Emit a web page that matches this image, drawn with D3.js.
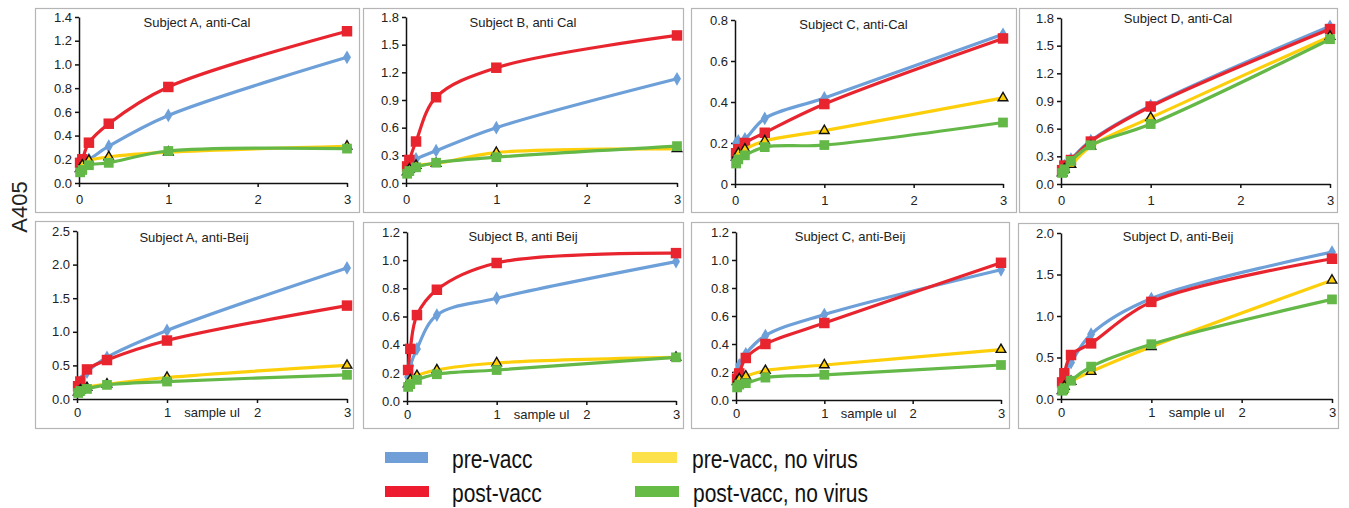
<!DOCTYPE html>
<html>
<head>
<meta charset="utf-8">
<script src="https://cdn.jsdelivr.net/npm/d3@7"></script>
<style>
  body { margin: 0; background: #fff; }
  svg { font-family: "Liberation Sans", Arial, Helvetica, sans-serif; }
</style>
</head>
<body>
<div id="chart"></div>
<script>
// Dilution series (sample ul)
const doses = [0.0123, 0.037, 0.111, 0.333, 1, 3];
const xTicks = [0, 1, 2, 3];

const seriesNames = ["pre-vacc", "post-vacc", "pre-vacc, no virus", "post-vacc, no virus"];

const panelTitles = [
  "Subject A, anti-Cal", "Subject B, anti Cal", "Subject C, anti-Cal", "Subject D, anti-Cal",
  "Subject A, anti-Beij", "Subject B, anti Beij", "Subject C, anti-Beij", "Subject D, anti-Beij"
];
const yMax  = [1.4, 1.8, 0.8, 1.8, 2.5, 1.2, 1.2, 2.0];
const yStep = [0.2, 0.3, 0.2, 0.3, 0.5, 0.2, 0.2, 0.5];

// A405 par panneau (même ordre que panelTitles)
const preVacc = [
  [0.15, 0.18, 0.20, 0.31, 0.57, 1.06],
  [0.19, 0.22, 0.26, 0.35, 0.60, 1.13],
  [0.20, 0.21, 0.22, 0.32, 0.42, 0.73],
  [0.16, 0.20, 0.27, 0.47, 0.85, 1.71],
  [0.18, 0.26, 0.40, 0.62, 1.02, 1.95],
  [0.17, 0.25, 0.37, 0.61, 0.73, 0.99],
  [0.20, 0.25, 0.33, 0.46, 0.61, 0.93],
  [0.20, 0.30, 0.44, 0.78, 1.21, 1.77]
];
const postVacc = [
  [0.17, 0.20, 0.34, 0.50, 0.81, 1.28],
  [0.18, 0.25, 0.45, 0.93, 1.25, 1.60],
  [0.15, 0.17, 0.20, 0.25, 0.39, 0.71],
  [0.15, 0.20, 0.26, 0.46, 0.84, 1.68],
  [0.19, 0.26, 0.44, 0.58, 0.87, 1.39],
  [0.22, 0.37, 0.61, 0.79, 0.98, 1.05],
  [0.15, 0.19, 0.30, 0.40, 0.55, 0.98],
  [0.20, 0.31, 0.53, 0.67, 1.17, 1.69]
];
const preNoVirus = [
  [0.12, 0.15, 0.19, 0.22, 0.26, 0.31],
  [0.12, 0.15, 0.19, 0.21, 0.33, 0.37],
  [0.13, 0.15, 0.17, 0.21, 0.26, 0.42],
  [0.12, 0.16, 0.21, 0.41, 0.72, 1.60],
  [0.10, 0.13, 0.17, 0.22, 0.32, 0.50],
  [0.12, 0.15, 0.18, 0.22, 0.27, 0.31],
  [0.13, 0.15, 0.17, 0.21, 0.25, 0.36],
  [0.10, 0.15, 0.21, 0.33, 0.63, 1.43]
];
const postNoVirus = [
  [0.09, 0.11, 0.15, 0.17, 0.27, 0.29],
  [0.10, 0.13, 0.17, 0.22, 0.28, 0.40],
  [0.10, 0.12, 0.14, 0.18, 0.19, 0.30],
  [0.12, 0.16, 0.25, 0.42, 0.65, 1.57],
  [0.09, 0.12, 0.15, 0.21, 0.26, 0.36],
  [0.10, 0.12, 0.15, 0.19, 0.22, 0.31],
  [0.09, 0.11, 0.12, 0.16, 0.18, 0.25],
  [0.10, 0.13, 0.22, 0.39, 0.66, 1.20]
];
const allSeries = [preVacc, postVacc, preNoVirus, postNoVirus];

// Styles des séries
const couleurs = ["#6d9fd8", "#e8252f", "#fdcf0a", "#64b848"];
const couleursLegende = ["#6f9fd6", "#ed1c2e", "#fde14a", "#66bb46"];
const symboles = [d3.symbolDiamond, d3.symbolSquare, d3.symbolTriangle, d3.symbolSquare];
const tailles = [55, 110, 40, 95];

// Position de chaque panneau : cadre + zone de tracé
const layout = [
  {box: [35, 8, 324, 204],   l: 79,   r: 347,  t: 17,  b: 183, ty: 27,  pad: 8},
  {box: [363, 8, 320, 204],  l: 406,  r: 677,  t: 17,  b: 183, ty: 27,  pad: 8},
  {box: [691, 8, 325, 204],  l: 735,  r: 1003, t: 20,  b: 184, ty: 29,  pad: 8},
  {box: [1019, 8, 318, 204], l: 1061, r: 1330, t: 18,  b: 184, ty: 23,  pad: 8},
  {box: [35, 221, 318, 207], l: 77,   r: 347,  t: 231, b: 399, ty: 242, pad: 5},
  {box: [363, 222, 320, 206], l: 407, r: 676,  t: 232, b: 401, ty: 241, pad: 5},
  {box: [691, 222, 318, 206], l: 736, r: 1001, t: 232, b: 400, ty: 241, pad: 5},
  {box: [1018, 223, 320, 205], l: 1061, r: 1332, t: 233, b: 399, ty: 241, pad: 5}
];

const svg = d3.select("#chart").append("svg")
  .attr("width", 1349)
  .attr("height", 508);

layout.forEach((p, i) => {
  const g = svg.append("g");

  // Cadre gris
  g.append("rect")
    .attr("x", p.box[0] + 0.5).attr("y", p.box[1] + 0.5)
    .attr("width", p.box[2]).attr("height", p.box[3])
    .attr("fill", "#fff")
    .attr("stroke", "#b5b5b5")
    .attr("stroke-width", 1.2);

  const x = d3.scaleLinear().domain([0, 3]).range([p.l, p.r]);
  const y = d3.scaleLinear().domain([0, yMax[i]]).range([p.b, p.t]);

  const yVals = d3.range(0, yMax[i] + 1e-9, yStep[i]);
  const fmt = i === 2 ? (d => d === 0 ? "0" : d3.format(".1f")(d)) : d3.format(".1f");

  const axeY = g.append("g")
    .attr("transform", `translate(${p.l},0)`)
    .call(d3.axisLeft(y).tickValues(yVals).tickFormat(fmt).tickSize(4).tickSizeOuter(0).tickPadding(3));

  const axeX = g.append("g")
    .attr("transform", `translate(0,${p.b})`)
    .call(d3.axisBottom(x).tickValues(xTicks).tickFormat(d3.format("d")).tickSize(4).tickSizeOuter(0).tickPadding(p.pad));

  [axeY, axeX].forEach(a => {
    a.selectAll("path, line").attr("stroke", "#111").attr("stroke-width", 1.5);
    a.selectAll("text").attr("font-size", 13).attr("fill", "#222").style("font-family", "inherit");
  });

  // Titre du panneau
  g.append("text")
    .attr("x", p.box[0] + p.box[2] / 2)
    .attr("y", p.ty)
    .attr("text-anchor", "middle")
    .attr("font-size", 13)
    .attr("fill", "#222")
    .text(panelTitles[i]);

  // "sample ul" sur la ligne inférieure
  if (i >= 4) {
    g.append("text")
      .attr("x", x(1.5))
      .attr("y", p.b + 4 + p.pad)
      .attr("dy", "0.71em")
      .attr("text-anchor", "middle")
      .attr("font-size", 13)
      .attr("fill", "#222")
      .text("sample ul");
  }

  const ligne = d3.line()
    .x((d, k) => x(doses[k]))
    .y(d => y(d))
    .curve(d3.curveCatmullRom.alpha(0.5));

  allSeries.forEach((serie, s) => {
    const vals = serie[i];
    g.append("path")
      .attr("d", ligne(vals))
      .attr("fill", "none")
      .attr("stroke", couleurs[s])
      .attr("stroke-width", 3.2)
      .attr("stroke-linejoin", "round");

    g.selectAll(null)
      .data(vals)
      .enter()
      .append("path")
      .attr("transform", (d, k) => `translate(${x(doses[k])},${y(d)})`)
      .attr("d", d3.symbol().type(symboles[s]).size(tailles[s]))
      .attr("fill", couleurs[s])
      .attr("stroke", s === 2 ? "#111" : "none")
      .attr("stroke-width", s === 2 ? 1.4 : 0);
  });
});

// Titre de l'axe Y
svg.append("text")
  .attr("transform", "translate(27,207) rotate(-90)")
  .attr("text-anchor", "middle")
  .attr("font-size", 22)
  .attr("fill", "#222")
  .text("A405");

// Légende
const legende = [
  {x: 385, y: 452, tx: 452, w: 43},
  {x: 385, y: 486, tx: 452, w: 44},
  {x: 632, y: 452, tx: 692, w: 45},
  {x: 635, y: 486, tx: 693, w: 44}
];
legende.forEach((l, s) => {
  svg.append("rect")
    .attr("x", l.x).attr("y", l.y)
    .attr("width", l.w).attr("height", 11)
    .attr("fill", couleursLegende[s]);
  svg.append("text")
    .attr("transform", `translate(${l.tx},${l.y + 16}) scale(0.84,1)`)
    .attr("font-size", 25)
    .attr("fill", "#111")
    .text(seriesNames[s]);
});
</script>
</body>
</html>
